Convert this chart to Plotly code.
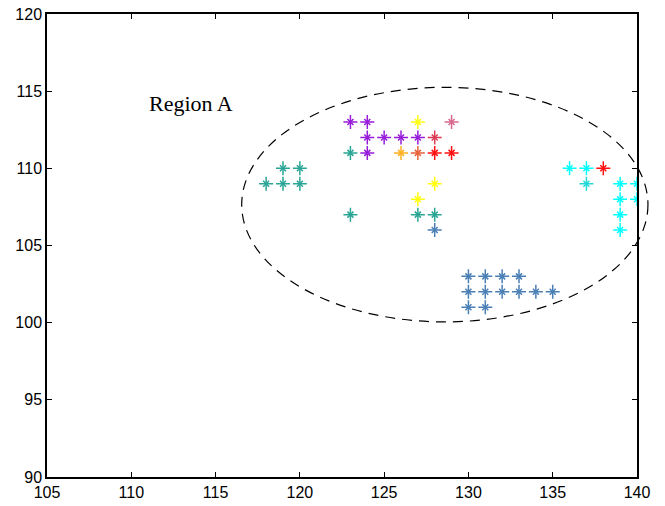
import plotly.graph_objects as go

# ---- data ----
purple_x = [123, 124, 124, 125, 126, 127, 124]
purple_y = [113, 113, 112, 112, 112, 112, 111]
teal_x = [118, 119, 120, 119, 120, 123, 123, 127, 128]
teal_y = [109, 109, 109, 110, 110, 111, 107, 107, 107]
steel_x = [128, 130, 131, 132, 133, 130, 131, 132, 133, 134, 135, 130, 131]
steel_y = [106, 103, 103, 103, 103, 102, 102, 102, 102, 102, 102, 101, 101]
yellow_x = [127, 128, 127]
yellow_y = [113, 109, 108]
cyan_x = [136, 137, 139, 140, 139, 140, 139, 139]
cyan_y = [110, 110, 109, 109, 108, 108, 107, 106]
cyan2_x = [137]
cyan2_y = [109]
red_x = [128, 129, 138]
red_y = [111, 111, 110]
crimson_x = [128]
crimson_y = [112]
orange_x = [126]
orange_y = [111]
tomato_x = [127]
tomato_y = [111]
pvr_x = [129]
pvr_y = [113]

series = [
    (purple_x, purple_y, "#961CDA"),
    (teal_x, teal_y, "#2AA596"),
    (steel_x, steel_y, "#4A7FB5"),
    (yellow_x, yellow_y, "#FFFF10"),
    (cyan_x, cyan_y, "#00FFFF"),
    (cyan2_x, cyan2_y, "#22D8D8"),
    (red_x, red_y, "#FF1010"),
    (crimson_x, crimson_y, "#DC3A55"),
    (orange_x, orange_y, "#FFB020"),
    (tomato_x, tomato_y, "#E8623A"),
    (pvr_x, pvr_y, "#D8688E"),
]

x_ticks = [105, 110, 115, 120, 125, 130, 135, 140]
y_ticks = [90, 95, 100, 105, 110, 115, 120]

# ellipse "Region A": center and semi-axes
ell_cx, ell_cy = 128.6, 107.65
ell_ax, ell_by = 12.05, 7.6
label_text = "Region A"
label_x, label_y = 113.55, 114.2

# ---- layout geometry ----
W, H = 665, 506
ml, mr, mt, mb = 47, 10, 14, 29
plot_w = W - ml - mr
main_w = 590
dom = main_w / plot_w
x_lo, x_hi = 105, 140
x2_hi = x_lo + (x_hi - x_lo) / dom

fig = go.Figure()

for xs, ys, c in series:
    fig.add_trace(go.Scatter(
        x=xs, y=ys, mode="markers", xaxis="x", yaxis="y",
        marker=dict(symbol="cross-thin-open", size=10, line=dict(color=c, width=1.5), color=c),
        hoverinfo="skip", showlegend=False))
    fig.add_trace(go.Scatter(
        x=xs, y=ys, mode="markers", xaxis="x", yaxis="y",
        marker=dict(symbol="x-thin-open", size=6, line=dict(color=c, width=1.5), color=c),
        hoverinfo="skip", showlegend=False))

# invisible trace to create the wider subplot for the unclipped ellipse
fig.add_trace(go.Scatter(x=[ell_cx], y=[ell_cy], mode="markers", xaxis="x2", yaxis="y",
                         marker=dict(opacity=0), hoverinfo="skip", showlegend=False))

fig.add_shape(type="circle", xref="x2", yref="y",
              x0=ell_cx - ell_ax, x1=ell_cx + ell_ax,
              y0=ell_cy - ell_by, y1=ell_cy + ell_by,
              line=dict(color="black", width=1.2, dash="10px,7px"))

fig.add_annotation(x=label_x, y=label_y, xref="x", yref="y", text=label_text,
                   showarrow=False, font=dict(family="Liberation Serif", size=22, color="black"),
                   xanchor="center", yanchor="middle")

axis_common = dict(
    showgrid=False, zeroline=False, showline=True, linecolor="black", linewidth=1.5,
    mirror="ticks", ticks="inside", ticklen=5, tickwidth=1, tickcolor="black",
    tickfont=dict(family="Liberation Sans", size=16, color="black"),
    automargin=False,
)

fig.update_layout(
    template="none",
    width=W, height=H,
    margin=dict(l=ml, r=mr, t=mt, b=mb, pad=0),
    paper_bgcolor="white", plot_bgcolor="rgba(0,0,0,0)",
    showlegend=False,
    xaxis=dict(range=[x_lo, x_hi], domain=[0, dom], tickvals=x_ticks, anchor="y", **axis_common),
    yaxis=dict(range=[90, 120], domain=[0, 1], tickvals=y_ticks, anchor="x", **axis_common),
    xaxis2=dict(range=[x_lo, x2_hi], domain=[0, 1], anchor="y", visible=False,
                showgrid=False, zeroline=False, automargin=False),
)

fig.write_html(
    "out.html",
    config={"displayModeBar": False},
    post_script="document.body.style.margin='0';document.body.style.overflow='hidden';",
)
